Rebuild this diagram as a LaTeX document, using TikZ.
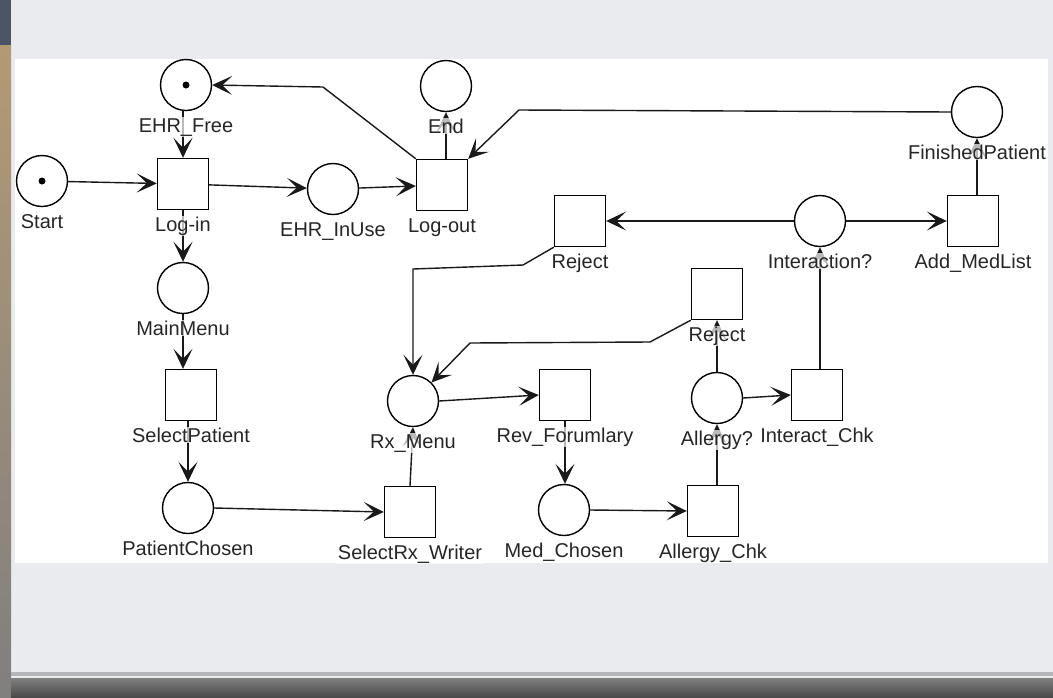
\documentclass[tikz,border=0pt]{standalone}
\usepackage{fontspec}
\setmainfont{Liberation Sans}
\usepackage{xcolor}
\usetikzlibrary{arrows.meta,positioning,calc}
\definecolor{slidegray}{HTML}{EAEBEE}
\definecolor{slate}{HTML}{4C5566}
\definecolor{photo}{HTML}{B39A74}
\definecolor{bandgray}{HTML}{4A4A4A}
\definecolor{rulegray}{HTML}{B4B5B9}

\begin{document}
\begin{tikzpicture}[
    x=1pt, y=-1pt,
    place/.style={circle, draw=black, line width=1.4pt, minimum size=51pt, inner sep=0pt, fill=white},
    transition/.style={rectangle, draw=black, line width=1.4pt, minimum size=51pt, inner sep=0pt, fill=white},
    lbl/.style={anchor=base, font=\fontsize{20}{22}\selectfont, text=black!85, fill=white, fill opacity=0.7, text opacity=1, inner sep=1pt},
    arc/.style={-{Stealth[length=20pt,width=19pt,inset=10pt]}, line width=1.4pt, black!90}
]

% Slide background
\useasboundingbox (0,0) rectangle (1053,697);
\fill[slidegray] (0,0) rectangle (1053,697);
\fill[slate] (0,0) rectangle (11,45);
\shade[top color=photo, bottom color=gray] (0,45) rectangle (11,697);
\fill[rulegray] (11,672) rectangle (1053,676);
\shade[top color=gray, bottom color=bandgray] (11,678) rectangle (1053,697);
\fill[white] (15,59) rectangle (1048,563);

% Places
\node[place] (start) at (42,181) {};
\node[place] (ehrfree) at (186,85) {};
\node[place] (ehrinuse) at (333,189) {};
\node[place] (end) at (446,86) {};
\node[place] (mainmenu) at (183,288) {};
\node[place] (patchosen) at (188,508) {};
\node[place] (rxmenu) at (413,401) {};
\node[place] (medchosen) at (564,510) {};
\node[place] (allergy) at (717,398) {};
\node[place] (interaction) at (820,221) {};
\node[place] (finished) at (977,112) {};

% Tokens
\fill (start) circle (3.5pt);
\fill (ehrfree) circle (3.5pt);

% Transitions
\node[transition] (login) at (183,184) {};
\node[transition] (logout) at (442,185) {};
\node[transition] (selpatient) at (191,395) {};
\node[transition] (selrx) at (410,512) {};
\node[transition] (revform) at (565,395) {};
\node[transition] (allergychk) at (713,511) {};
\node[transition] (interactchk) at (817,395) {};
\node[transition] (rejecta) at (580,221) {};
\node[transition] (rejectb) at (717,294) {};
\node[transition] (addmed) at (973,221) {};

% Bend points
\coordinate (bendfree) at (323,87);
\coordinate (bendfin) at (519,110);
\coordinate (bendra1) at (523,265);
\coordinate (bendra2) at (413,269);
\coordinate (bendrb1) at (650,342);
\coordinate (bendrb2) at (470,343);

% Arcs
\draw[arc] (start) -- (login);
\draw[arc] (ehrfree.south -| login.north) -- (login.north);
\draw[arc] (login) -- (ehrinuse);
\draw[arc] (ehrinuse) -- (logout);
\draw[arc] (logout.north -| end.south) -- (end.south);
\draw[arc] (logout.north west) -- (bendfree) -- (ehrfree.east);
\draw[arc] (finished.west) -- (bendfin) -- (logout.north east);
\draw[arc] (login.south) -- (mainmenu.north);
\draw[arc] (mainmenu.south) -- (mainmenu.south |- selpatient.north);
\draw[arc] (patchosen.north |- selpatient.south) -- (patchosen.north);
\draw[arc] (patchosen.east) -- (selrx.west);
\draw[arc] (selrx.north) -- (rxmenu.south);
\draw[arc] (rejecta.south west) -- (bendra1) -- (bendra2) -- (rxmenu.north);
\draw[arc] (rejectb.south west) -- (bendrb1) -- (bendrb2) -- (rxmenu.north east);
\draw[arc] (rxmenu.east) -- (revform.west);
\draw[arc] (revform.south) -- (revform.south |- medchosen.north);
\draw[arc] (medchosen.east) -- (allergychk.west);
\draw[arc] (allergy.south |- allergychk.north) -- (allergy.south);
\draw[arc] (allergy.north) -- (rejectb.south);
\draw[arc] (allergy.east) -- (interactchk.west);
\draw[arc] (interaction.south |- interactchk.north) -- (interaction.south);
\draw[arc] (interaction.west) -- (rejecta.east);
\draw[arc] (interaction.east) -- (addmed.west);
\draw[arc] (finished.south |- addmed.north) -- (finished.south);

% Labels
\node[lbl] (startL) at ([yshift=-47pt]start.center) {Start};
\node[lbl] (ehrfreeL) at ([yshift=-47pt]ehrfree.center) {EHR\_Free};
\node[lbl] (ehrinuseL) at ([yshift=-47pt]ehrinuse.center) {EHR\_InUse};
\node[lbl] (endL) at ([yshift=-47pt]end.center) {End};
\node[lbl] (mainmenuL) at ([yshift=-47pt]mainmenu.center) {MainMenu};
\node[lbl] (patchosenL) at ([yshift=-47pt]patchosen.center) {PatientChosen};
\node[lbl] (rxmenuL) at ([yshift=-47pt]rxmenu.center) {Rx\_Menu};
\node[lbl] (medchosenL) at ([yshift=-47pt]medchosen.center) {Med\_Chosen};
\node[lbl] (allergyL) at ([yshift=-47pt]allergy.center) {Allergy?};
\node[lbl] (interactionL) at ([yshift=-47pt]interaction.center) {Interaction?};
\node[lbl] (finishedL) at ([yshift=-47pt]finished.center) {FinishedPatient};
\node[lbl] (loginL) at ([yshift=-47pt]login.center) {Log-in};
\node[lbl] (logoutL) at ([yshift=-47pt]logout.center) {Log-out};
\node[lbl] (selpatientL) at ([yshift=-47pt]selpatient.center) {SelectPatient};
\node[lbl] (selrxL) at ([yshift=-47pt]selrx.center) {SelectRx\_Writer};
\node[lbl] (revformL) at ([yshift=-47pt]revform.center) {Rev\_Forumlary};
\node[lbl] (allergychkL) at ([yshift=-47pt]allergychk.center) {Allergy\_Chk};
\node[lbl] (interactchkL) at ([yshift=-47pt]interactchk.center) {Interact\_Chk};
\node[lbl] (rejectaL) at ([yshift=-47pt]rejecta.center) {Reject};
\node[lbl] (rejectbL) at ([yshift=-47pt]rejectb.center) {Reject};
\node[lbl] (addmedL) at ([yshift=-47pt]addmed.center) {Add\_MedList};

\end{tikzpicture}
\end{document}
